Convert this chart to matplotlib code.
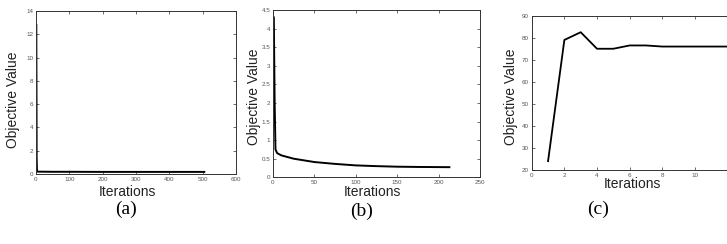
import matplotlib
matplotlib.use("Agg")
import matplotlib.pyplot as plt
import numpy as np

# Panel (a)
a_x = [1, 2, 3, 5, 10, 50, 100, 200, 300, 400, 505]
a_y = [12.8, 1.5, 0.25, 0.2, 0.2, 0.19, 0.19, 0.18, 0.18, 0.18, 0.18]

# Panel (b)
b_x = [1, 2, 3, 5, 10, 25, 50, 75, 100, 125, 150, 175, 213]
b_y = [4.3, 2.0, 0.75, 0.65, 0.59, 0.5, 0.41, 0.36, 0.32, 0.30, 0.285, 0.278, 0.272]

# Panel (c)
c_x = [1, 2, 3, 4, 5, 6, 7, 8, 9, 10, 11, 12]
c_y = [24, 79, 82.5, 75, 75, 76.5, 76.5, 76, 76, 76, 76, 76]

captions = ["(a)", "(b)", "(c)"]
xlabel = "Iterations"
ylabel = "Objective Value"

plt.rcParams['font.family'] = ['Liberation Sans', 'DejaVu Sans']
fig = plt.figure(figsize=(7.27, 2.44), dpi=100)

def style(ax, right=True):
    ax.tick_params(direction='in', top=True, right=right, length=2, width=0.5,
                   labelsize=4.5, labelcolor='#555555', color='#333333', pad=2)
    for s in ax.spines.values():
        s.set_linewidth(0.7)
        s.set_color('#333333')

ax1 = fig.add_axes([0.0495, 0.2869, 0.2751, 0.668])
ax1.plot(a_x, a_y, color='black', lw=1.4)
ax1.set_xlim(0, 600)
ax1.set_ylim(0, 14)
ax1.set_xticks(np.arange(0, 601, 100))
ax1.set_yticks(np.arange(0, 15, 2))
style(ax1)

ax2 = fig.add_axes([0.3755, 0.2734, 0.2848, 0.6857])
ax2.plot(b_x, b_y, color='black', lw=1.4)
ax2.set_xlim(0, 250)
ax2.set_ylim(0, 4.5)
ax2.set_xticks(np.arange(0, 251, 50))
ax2.set_yticks(np.arange(0, 4.51, 0.5))
ax2.set_yticklabels(['0', '0.5', '1', '1.5', '2', '2.5', '3', '3.5', '4', '4.5'])
style(ax2)

ax3 = fig.add_axes([0.7314, 0.3033, 0.2694, 0.6324])
ax3.plot(c_x, c_y, color='black', lw=1.3)
ax3.set_xlim(0, 12)
ax3.set_ylim(20, 90)
ax3.set_xticks(np.arange(0, 11, 2))
ax3.set_yticks(np.arange(20, 91, 10))
style(ax3, right=False)
ax3.spines['right'].set_visible(False)

H = 244.0
W = 727.0
def ft(x, y, s, **kw):
    fig.text(x / W, 1 - y / H, s, ha='center', va='center', **kw)

ft(127, 192, xlabel, fontsize=10, color='#222222')
ft(372, 192, xlabel, fontsize=10, color='#222222')
ft(632, 184, xlabel, fontsize=10, color='#222222')
ft(13, 100, ylabel, fontsize=10, rotation=90, color='#222222')
ft(254, 97, ylabel, fontsize=10, rotation=90, color='#222222')
ft(511, 97, ylabel, fontsize=10, rotation=90, color='#222222')

for (x, y), c in zip([(126, 209), (362, 211), (598, 209)], captions):
    ft(x, y, c, fontsize=14, family='Liberation Serif', color='black')

fig.savefig("out.png", dpi=100)
